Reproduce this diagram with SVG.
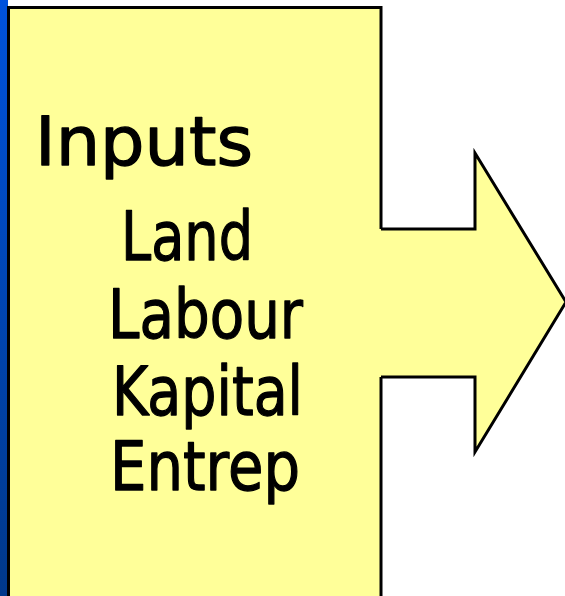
<svg xmlns="http://www.w3.org/2000/svg" width="565" height="596" viewBox="0 0 565 596">
  <defs>
    <linearGradient id="sideBar" x1="0" y1="0" x2="0" y2="1">
      <stop offset="0" stop-color="#0052dc"/>
      <stop offset="1" stop-color="#00388a"/>
    </linearGradient>
  </defs>
  <style>
    .panel { fill: #ffff99; stroke: #000; stroke-width: 3; }
    .fillonly { fill: #ffff99; stroke: none; }
    .outline { fill: none; stroke: #000; stroke-width: 3; stroke-linejoin: miter; }
    .label { font-family: "DejaVu Sans", "Liberation Sans", sans-serif; font-size: 68px; fill: #000; stroke: #000; stroke-width: 1.3; stroke-linejoin: round; }
  </style>

  <rect width="565" height="596" fill="#ffffff"/>
  <!-- blue strip along the left edge -->
  <rect x="0" y="0" width="8" height="596" fill="url(#sideBar)"/>

  <!-- inputs box -->
  <g id="inputs-box">
    <rect class="panel" x="8.5" y="7.5" width="372.5" height="620"/>
    <text class="label" x="35" y="165" textLength="218" lengthAdjust="spacingAndGlyphs">Inputs</text>
    <text class="label" x="121" y="260" textLength="132" lengthAdjust="spacingAndGlyphs">Land</text>
    <text class="label" x="108" y="338" textLength="195" lengthAdjust="spacingAndGlyphs">Labour</text>
    <text class="label" x="112" y="415" textLength="191" lengthAdjust="spacingAndGlyphs">Kapital</text>
    <text class="label" x="110" y="490" textLength="190" lengthAdjust="spacingAndGlyphs">Entrep</text>
  </g>

  <!-- output arrow -->
  <g id="connectors">
    <polygon class="fillonly" points="376,229 475,229 475,153 566,302 475,452 475,377 376,377"/>
    <polyline class="outline" points="381,229 475,229 475,153 566,302 475,452 475,377 381,377"/>
  </g>
</svg>
